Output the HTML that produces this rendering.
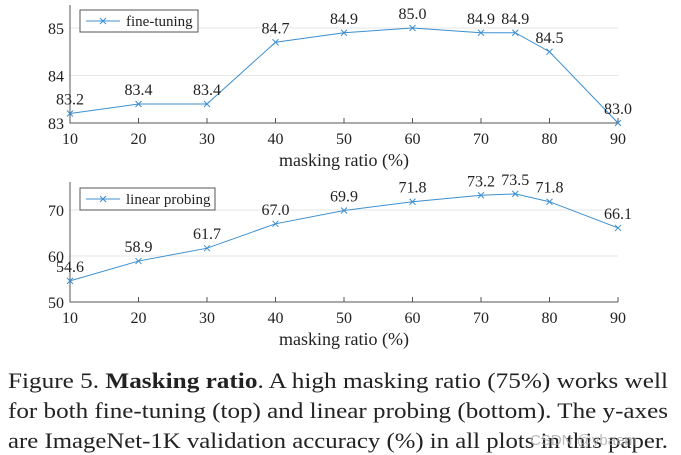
<!DOCTYPE html>
<html><head><meta charset="utf-8"><style>
body{margin:0;background:#fff;width:681px;height:455px;overflow:hidden}
svg{display:block}
text{font-family:"Liberation Serif","Times New Roman",serif;fill:#222}
</style></head><body>
<svg id="s" width="681" height="455">
<g id="c1"></g>
<g id="c2"></g>
<g font-family="Liberation Serif, serif" style="font-size:22px">
<text x="8" y="388" textLength="660" lengthAdjust="spacingAndGlyphs">Figure 5. <tspan font-weight="bold">Masking ratio</tspan>. A high masking ratio (75%) works well</text>
<text x="8" y="418" textLength="660" lengthAdjust="spacingAndGlyphs">for both fine-tuning (top) and linear probing (bottom). The y-axes</text>
<text x="8" y="448" textLength="660" lengthAdjust="spacingAndGlyphs">are ImageNet-1K validation accuracy (%) in all plots in this paper.</text>
</g>
<text x="530" y="445" style="font-family:'Liberation Sans',sans-serif;font-size:15px;fill:#aaa;opacity:.8">CSDN @ybaem</text>
</svg>
<script>
const xs=[10,20,30,40,50,60,70,75,80,90];
const fineTuning=[83.2,83.4,83.4,84.7,84.9,85.0,84.9,84.9,84.5,83.0];
const linearProbing=[54.6,58.9,61.7,67.0,69.9,71.8,73.2,73.5,71.8,66.1];
const xTicks=[10,20,30,40,50,60,70,80,90];
const yTicks1=[83,84,85];
const yTicks2=[50,60,70];
const NS="http://www.w3.org/2000/svg";
function mk(p,t,a){const e=document.createElementNS(NS,t);for(const k in a)e.setAttribute(k,a[k]);p.appendChild(e);return e;}
function chart(g,vals,yt,ymin,ymax,top,bot,axTop,leg,legW){
  const X=v=>70+(v-10)*(618-70)/80;
  const Y=v=>bot-(v-ymin)*(bot-top)/(ymax-ymin);
  yt.forEach(t=>{
    const l=mk(g,'line',{x1:70,x2:618,y1:Y(t),y2:Y(t),stroke:'#e6e6e6','stroke-width':1});
    
    
    const tx=mk(g,'text',{x:64,y:Y(t)+6,'text-anchor':'end','font-size':'16px'});tx.textContent=t;
    
    
  });
  const ax=mk(g,'path',{d:`M70 ${axTop}V${bot}H618`,stroke:'#555',fill:'none','stroke-width':1});
  
  
  xTicks.forEach(t=>{
    mk(g,'line',{x1:X(t),x2:X(t),y1:bot,y2:bot-5,stroke:'#555'});
    const tx=mk(g,'text',{x:X(t),y:bot+21,'text-anchor':'middle','font-size':'16px'});tx.textContent=t;
    
    
  });
  const xl=mk(g,'text',{x:344,y:bot+43,'text-anchor':'middle','font-size':'18px'});xl.textContent='masking ratio (%)';
  
  
  const pl=mk(g,'polyline',{points:xs.map((x,i)=>X(x)+','+Y(vals[i])).join(' '),fill:'none',stroke:'#3d8fd0','stroke-width':1});
  
  
  xs.forEach((x,i)=>{
    const px=X(x),py=Y(vals[i]);
    const m=mk(g,'path',{d:`M${px-3} ${py-3}L${px+3} ${py+3}M${px-3} ${py+3}L${px+3} ${py-3}`,stroke:'#3d8fd0','stroke-width':1});
    
    
    const t=mk(g,'text',{x:px,y:py-9,'text-anchor':'middle','font-size':'16px'});t.textContent=vals[i].toFixed(1);
    
    
  });
  const lg=mk(g,'g',{});
  
  
  mk(lg,'rect',{x:80,y:leg,width:legW,height:22,fill:'#fff',stroke:'#555'});
  mk(lg,'line',{x1:86,x2:120,y1:leg+11,y2:leg+11,stroke:'#3d8fd0'});
  mk(lg,'path',{d:`M100 ${leg+8}l6 6m-6 0l6 -6`,stroke:'#3d8fd0'});
  return {lg,leg};
}
const a=chart(document.getElementById('c1'),fineTuning,yTicks1,83,85,28,123,5,10,118);
let t=mk(a.lg,'text',{x:126,y:a.leg+16,'font-size':'15px'});t.textContent='fine-tuning';
const b=chart(document.getElementById('c2'),linearProbing,yTicks2,50,70,210,302,182,188,135);
t=mk(b.lg,'text',{x:126,y:b.leg+16,'font-size':'15px'});t.textContent='linear probing';
</script>
</body></html>
